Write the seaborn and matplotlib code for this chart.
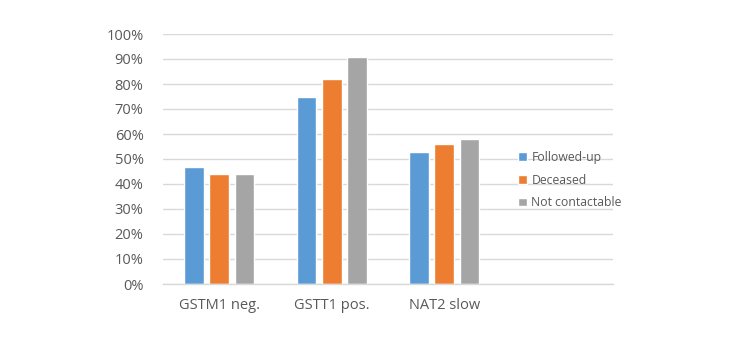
import matplotlib
matplotlib.use("Agg")
import matplotlib.pyplot as plt
import seaborn as sns
import pandas as pd
from matplotlib.ticker import PercentFormatter

categories = ["GSTM1 neg.", "GSTT1 pos.", "NAT2 slow"]
series = ["Followed-up", "Deceased", "Not contactable"]
followed_up = [0.47, 0.75, 0.53]
deceased = [0.44, 0.82, 0.56]
not_contactable = [0.44, 0.91, 0.58]
colors = ["#5B9BD5", "#ED7D31", "#A5A5A5"]
yticks = [i / 10 for i in range(11)]

rows = []
for name, vals in zip(series, [followed_up, deceased, not_contactable]):
    for c, v in zip(categories, vals):
        rows.append({"category": c, "group": name, "value": v})
df = pd.DataFrame(rows)

sns.set_theme(style="white")
plt.rcParams["font.family"] = ["Open Sans", "DejaVu Sans"]

fig = plt.figure(figsize=(7.52, 3.45), dpi=100)
ax = fig.add_axes([163 / 752, 1 - 284 / 345, 450 / 752, 250 / 345])

sns.barplot(data=df, x="category", y="value", hue="group", order=categories,
            hue_order=series, palette=colors, width=0.667, gap=0.22,
            saturation=1, ax=ax, legend=True)

ax.set_xlim(-0.5, 3.5)
ax.set_ylim(0, 1)
ax.set_yticks(yticks)
ax.yaxis.set_major_formatter(PercentFormatter(1.0, decimals=0))
ax.grid(axis="y", color="#D9D9D9", linewidth=1)
ax.set_axisbelow(True)
for s in ["top", "right", "left"]:
    ax.spines[s].set_visible(False)
ax.spines["bottom"].set_color("#D9D9D9")
ax.spines["bottom"].set_linewidth(1)
ax.tick_params(axis="both", length=0, colors="#595959", labelsize=10.5)
ax.tick_params(axis="y", pad=14)
ax.tick_params(axis="x", pad=10)
ax.set_xlabel("")
ax.set_ylabel("")

handles, labels = ax.get_legend_handles_labels()
ax.get_legend().remove()
leg = fig.legend(handles, labels, loc="center left",
                 bbox_to_anchor=(507 / 752, 1 - 180 / 345), frameon=False,
                 fontsize=8.8, handlelength=0.75, handleheight=0.75,
                 handletextpad=0.35, labelspacing=0.8, labelcolor="#595959")

fig.savefig("out.png", dpi=100, facecolor="white")
